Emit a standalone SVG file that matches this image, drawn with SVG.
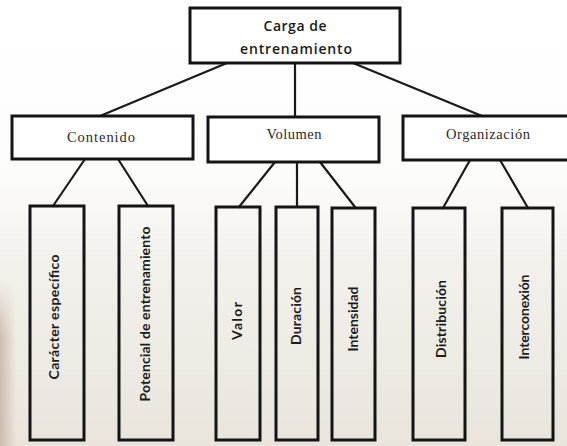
<svg xmlns="http://www.w3.org/2000/svg" width="567" height="446" viewBox="0 0 567 446">
  <defs>
    <linearGradient id="paper" x1="0" y1="0" x2="0" y2="1">
      <stop offset="0" stop-color="#ffffff"/>
      <stop offset="0.40" stop-color="#fcfcfb"/>
      <stop offset="0.58" stop-color="#f3f1ec"/>
      <stop offset="1" stop-color="#e9e5dd"/>
    </linearGradient>
    <linearGradient id="edge" x1="0" y1="0" x2="1" y2="0">
      <stop offset="0" stop-color="#c7b4a3" stop-opacity="0.85"/>
      <stop offset="1" stop-color="#c7b4a3" stop-opacity="0"/>
    </linearGradient>
    <linearGradient id="fadeV" x1="0" y1="0" x2="0" y2="1">
      <stop offset="0" stop-color="#ffffff" stop-opacity="0"/>
      <stop offset="0.35" stop-color="#ffffff" stop-opacity="1"/>
      <stop offset="1" stop-color="#ffffff" stop-opacity="1"/>
    </linearGradient>
    <mask id="edgeMask">
      <rect x="0" y="280" width="16" height="166" fill="url(#fadeV)"/>
    </mask>
    <style>
      .box { fill: #ffffff; stroke: #141414; stroke-width: 3; }
      .leaf { fill: none; stroke: #141414; stroke-width: 3; }
      .conn line { stroke: #1a1a1a; stroke-width: 2.2; stroke-linecap: round; }
      .title { font-family: "Open Sans", "Noto Sans", sans-serif; font-weight: 600; font-size: 14px; fill: #1a1a1a; text-anchor: middle; }
      .mid { font-family: "Liberation Serif", "DejaVu Serif", serif; font-size: 14.5px; fill: #2a2a2a; text-anchor: middle; }
      .vert { font-family: "Lato", "Open Sans", sans-serif; font-weight: bold; font-size: 14px; fill: #1c1c1c; text-anchor: middle; }
    </style>
  </defs>

  <rect x="0" y="0" width="567" height="446" fill="url(#paper)"/>
  <rect x="0" y="280" width="16" height="166" fill="url(#edge)" mask="url(#edgeMask)"/>

  <g id="connectors" class="conn">
    <line x1="227" y1="63" x2="100" y2="116"/>
    <line x1="295" y1="63" x2="295" y2="116"/>
    <line x1="353" y1="63" x2="482" y2="116"/>
    <line x1="85" y1="159" x2="53" y2="206"/>
    <line x1="118" y1="159" x2="148" y2="206"/>
    <line x1="275" y1="162" x2="239" y2="207"/>
    <line x1="297" y1="162" x2="297" y2="207"/>
    <line x1="320" y1="162" x2="355" y2="207"/>
    <line x1="470" y1="160" x2="443" y2="208"/>
    <line x1="500" y1="160" x2="528" y2="208"/>
  </g>

  <g id="carga">
    <rect class="box" x="190" y="8" width="210" height="55"/>
    <text class="title" x="295" y="31" textLength="63">Carga de</text>
    <text class="title" x="296" y="54" textLength="112">entrenamiento</text>
  </g>

  <g id="contenido">
    <rect class="box" x="12" y="116" width="181" height="43"/>
    <text class="mid" x="101" y="142" textLength="68">Contenido</text>
  </g>

  <g id="volumen">
    <rect class="box" x="208" y="117" width="171" height="45"/>
    <text class="mid" x="294" y="139" textLength="55">Volumen</text>
  </g>

  <g id="organizacion">
    <rect class="box" x="403" y="116" width="170" height="44"/>
    <text class="mid" x="488" y="139" textLength="84">Organización</text>
  </g>

  <g id="caracter">
    <rect class="leaf" x="30" y="206" width="54" height="234"/>
    <text class="vert" transform="translate(59 317) rotate(-90)" textLength="125">Carácter específico</text>
  </g>

  <g id="potencial">
    <rect class="leaf" x="119" y="206" width="54" height="234"/>
    <text class="vert" transform="translate(150 314) rotate(-90)" textLength="175">Potencial de entrenamiento</text>
  </g>

  <g id="valor">
    <rect class="leaf" x="216" y="207" width="44" height="233"/>
    <text class="vert" transform="translate(242 321) rotate(-90)" textLength="38">Valor</text>
  </g>

  <g id="duracion">
    <rect class="leaf" x="276" y="207" width="42" height="233"/>
    <text class="vert" transform="translate(301 316) rotate(-90)" textLength="58">Duración</text>
  </g>

  <g id="intensidad">
    <rect class="leaf" x="332" y="208" width="43" height="232"/>
    <text class="vert" transform="translate(358 319) rotate(-90)" textLength="65">Intensidad</text>
  </g>

  <g id="distribucion">
    <rect class="leaf" x="413" y="208" width="52" height="232"/>
    <text class="vert" transform="translate(446 319) rotate(-90)" textLength="78">Distribución</text>
  </g>

  <g id="interconexion">
    <rect class="leaf" x="502" y="208" width="51" height="232"/>
    <text class="vert" transform="translate(529 317) rotate(-90)" textLength="85">Interconexión</text>
  </g>
</svg>
